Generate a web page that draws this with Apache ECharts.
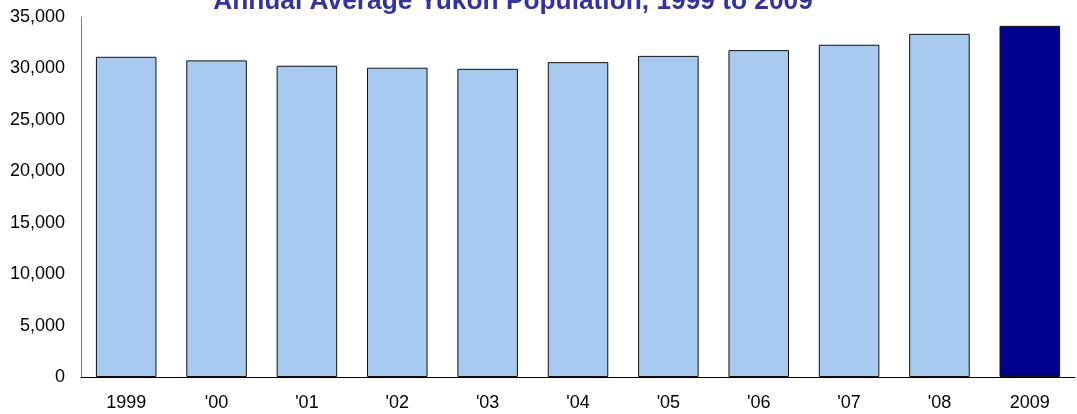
<!DOCTYPE html>
<html>
<head>
<meta charset="utf-8">
<script src="https://cdn.jsdelivr.net/npm/echarts@6/dist/echarts.min.js"></script>
<style>
  html, body { margin: 0; padding: 0; background: #fff; }
  #main { width: 1077px; height: 414px; }
</style>
</head>
<body>
<div id="main"></div>
<script>
// categories and values
const years = ['1999', "'00", "'01", "'02", "'03", "'04", "'05", "'06", "'07", "'08", '2009'];
const population = [31130, 30780, 30260, 30070, 29960, 30610, 31220, 31780, 32300, 33360, 34140];
const yTicks = [0, 5000, 10000, 15000, 20000, 25000, 30000, 35000];

const lightBlue = '#A6CAF0';
const navy = '#00008F';

var myChart = echarts.init(document.getElementById('main'));
myChart.setOption({
  animation: false,
  title: {
    text: 'Annual Average Yukon Population, 1999 to 2009',
    left: 508,
    textAlign: 'center',
    top: -16,
    textStyle: {
      fontFamily: 'Liberation Sans, Arial',
      fontSize: 26.3,
      fontWeight: 'bold',
      color: '#3333A0'
    }
  },
  grid: { left: 81, right: 2, top: 17, bottom: 37 },
  xAxis: {
    type: 'category',
    data: years,
    axisLine: { lineStyle: { color: '#000', width: 1 } },
    axisTick: { show: false },
    axisLabel: {
      fontFamily: 'Liberation Sans, Arial',
      fontSize: 18,
      color: '#000',
      margin: 17
    }
  },
  yAxis: {
    type: 'value',
    min: yTicks[0],
    max: yTicks[yTicks.length - 1],
    interval: 5000,
    splitLine: { show: false },
    axisLine: { show: true, lineStyle: { color: '#808080', width: 1 } },
    axisTick: { show: false },
    axisLabel: {
      fontFamily: 'Liberation Sans, Arial',
      fontSize: 18,
      color: '#000',
      margin: 16,
      formatter: function (v) { return v.toLocaleString('en-US'); }
    }
  },
  series: [{
    type: 'bar',
    barCategoryGap: '33%',
    data: population.map(function (v, i) {
      return {
        value: v,
        itemStyle: { color: i === population.length - 1 ? navy : lightBlue }
      };
    }),
    itemStyle: { borderColor: '#111', borderWidth: 1 }
  }]
});
</script>
</body>
</html>
